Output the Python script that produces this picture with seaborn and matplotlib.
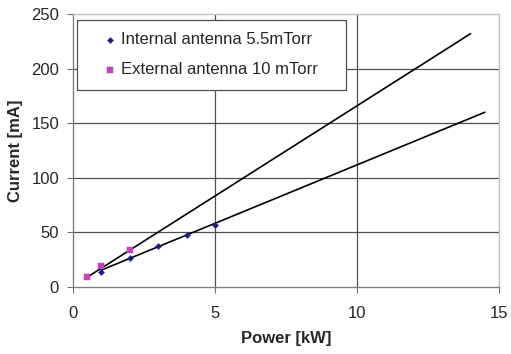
import matplotlib
matplotlib.use("Agg")
import matplotlib.pyplot as plt
import seaborn as sns
import pandas as pd

# Data
int_power = [1, 2, 3, 4, 5]
int_current = [14, 27, 37.5, 48, 57]
ext_power = [0.5, 1, 2]
ext_current = [9, 19, 34]

# Trend lines (endpoints)
trend_ext_x = [0.5, 14]
trend_ext_y = [9, 232]
trend_int_x = [1, 14.5]
trend_int_y = [15.5, 160]

x_ticks = [0, 5, 10, 15]
y_ticks = [0, 50, 100, 150, 200, 250]

sns.set_theme(style="white")
plt.rcParams['font.family'] = ['Liberation Sans', 'DejaVu Sans']

fig = plt.figure(figsize=(5.11, 3.54), dpi=100)
ax = fig.add_axes([73/511, 1-287/354, (499-73)/511, (287-14)/354])

# gridlines
for xv in x_ticks[1:-1]:
    ax.axvline(xv, color='#505050', lw=0.9, zorder=0)
for yv in y_ticks[1:-1]:
    ax.axhline(yv, color='#505050', lw=0.9, zorder=0)

sns.lineplot(x=trend_ext_x, y=trend_ext_y, ax=ax, color='black', lw=1.2, legend=False, zorder=2)
sns.lineplot(x=trend_int_x, y=trend_int_y, ax=ax, color='black', lw=1.2, legend=False, zorder=2)

sns.scatterplot(x=int_power, y=int_current, ax=ax, marker='D', s=10, color='#1c1c80',
                edgecolor='#1c1c80', label='Internal antenna 5.5mTorr', zorder=3)
sns.scatterplot(x=ext_power, y=ext_current, ax=ax, marker='s', s=16, color='#c040c0',
                edgecolor='#c040c0', label='External antenna 10 mTorr', zorder=3)

ax.set_xlim(0, 15)
ax.set_ylim(0, 250)
ax.set_xticks(x_ticks)
ax.set_yticks(y_ticks)
ax.tick_params(axis='both', which='both', direction='out', length=4, width=0.8,
               color='#707070', labelsize=12, bottom=True, left=True)
ax.tick_params(axis='x', pad=10)
ax.tick_params(axis='y', pad=6)
ax.set_xticklabels([str(v) for v in x_ticks])
ax.set_yticklabels([str(v) for v in y_ticks])

for side in ['top', 'right']:
    ax.spines[side].set_color('#c0c0c0')
    ax.spines[side].set_linewidth(1.0)
for side in ['left', 'bottom']:
    ax.spines[side].set_color('#808080')
    ax.spines[side].set_linewidth(1.0)

ax.set_xlabel('Power [kW]', fontsize=12, fontweight='bold', labelpad=7)
ax.set_ylabel('Current [mA]', fontsize=12, fontweight='bold', labelpad=6)

leg = ax.legend(loc='upper left', bbox_to_anchor=(4/426, 0.5, 269/426, 1-6/273-0.5),
                mode='expand', fontsize=12,
                frameon=True, fancybox=False, framealpha=1, edgecolor='#505050',
                borderpad=0.75, labelspacing=0.9, handletextpad=-0.56, markerscale=1.0,
                borderaxespad=0, handlelength=2.45)
leg.get_frame().set_linewidth(0.9)

fig.savefig('out.png', dpi=100, facecolor='white')
